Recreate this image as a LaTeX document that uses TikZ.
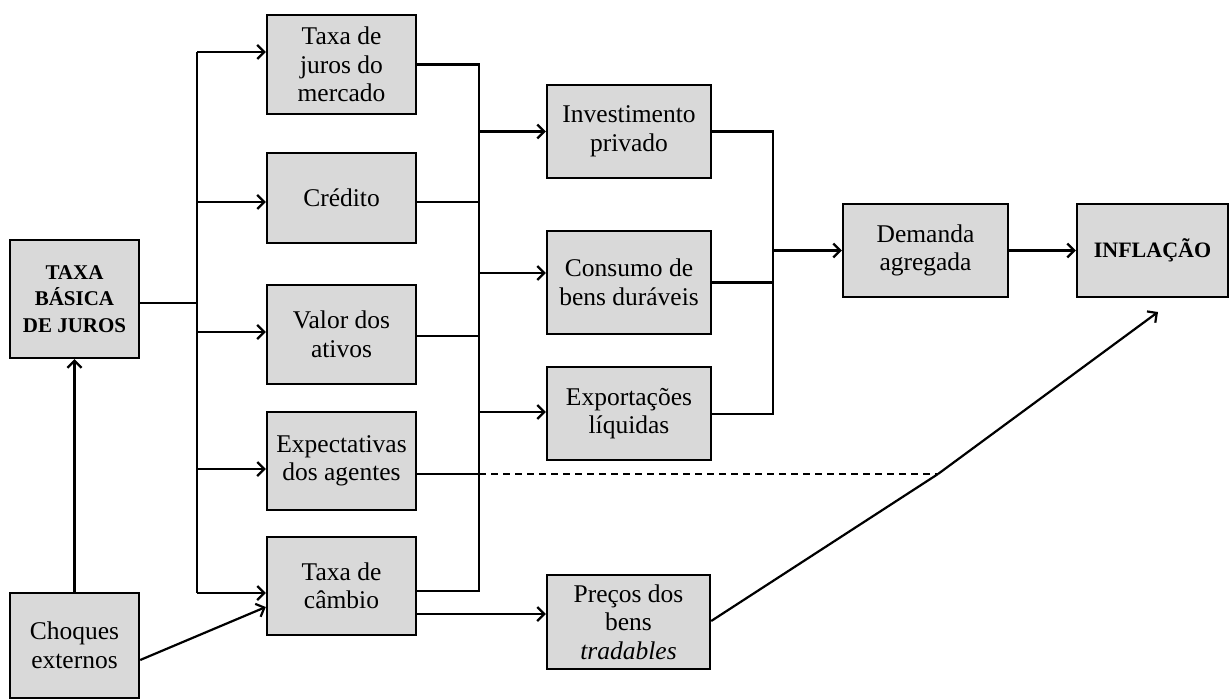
\documentclass[tikz,border=0pt]{standalone}
\usepackage{fontspec}
\setmainfont{Liberation Serif}
\usetikzlibrary{arrows.meta}
\definecolor{boxgray}{HTML}{D9D9D9}
\begin{document}
\begin{tikzpicture}[x=1pt,y=-1pt,
  bx/.style={draw=black, fill=boxgray, line width=2.4pt, align=center, inner sep=0pt,
             font=\fontsize{25.5}{28.5}\selectfont},
  bbx/.style={bx, font=\fontsize{21}{26.5}\selectfont\bfseries},
  ln/.style={line width=2.2pt},
  arr/.style={ln, -{Straight Barb[length=7pt,width=14pt,line width=2.2pt]}}]
\useasboundingbox (0,0) rectangle (1230,700);

% column 1
\node[bbx, minimum width=129pt, minimum height=118pt] (tbj) at (74.5,299) {TAXA\\BÁSICA\\DE JUROS};
\node[bx, minimum width=129pt, minimum height=105pt] (choq) at (74.5,645.5) {Choques\\externos};

% column 2
\node[bx, minimum width=149pt, minimum height=99pt] (tjm) at (341.5,64.5) {Taxa de\\juros do\\mercado};
\node[bx, minimum width=149pt, minimum height=90pt] (cred) at (341.5,198) {Crédito};
\node[bx, minimum width=149pt, minimum height=99pt] (valor) at (341.5,334.5) {Valor dos\\ativos};
\node[bx, minimum width=149pt, minimum height=98pt] (expect) at (341.5,461) {Expectativas\\dos agentes};
\node[bx, minimum width=149pt, minimum height=98pt] (camb) at (341.5,586) {Taxa de\\câmbio};

% column 3
\node[bx, minimum width=164pt, minimum height=93pt] (inv) at (629,131.5) {Investimento\\privado};
\node[bx, minimum width=164pt, minimum height=103pt] (cons) at (629,282.5) {Consumo de\\bens duráveis};
\node[bx, minimum width=164pt, minimum height=93pt] (expl) at (629,413.5) {Exportações\\líquidas};
\node[bx, minimum width=163pt, minimum height=94pt] (prec) at (628.5,622) {Preços dos\\bens\\\textit{tradables}};

% column 4/5
\node[bx, minimum width=165pt, minimum height=93pt] (dem) at (925.5,250.5) {Demanda\\agregada};
\node[bx, font=\fontsize{22}{26}\selectfont\bfseries, minimum width=151pt, minimum height=93pt] (infl) at (1152.5,250.5) {INFLAÇÃO};

% bus coordinates
\coordinate (busL) at (197,0);
\coordinate (busM) at (479,0);
\coordinate (busR) at (773,0);
\coordinate (j) at (938,474);
\coordinate (tip) at (1158,312);

% left bus
\draw[ln] ([yshift=-4pt]tbj.east) -- ([yshift=-4pt]tbj.east -| busL);
\draw[ln] ([yshift=12.5pt]tjm.west -| busL) -- ([yshift=-7pt]camb.west -| busL);
\draw[arr] ([yshift=12.5pt]tjm.west -| busL) -- ([yshift=12.5pt]tjm.west);
\draw[arr] ([yshift=-4pt]cred.west -| busL) -- ([yshift=-4pt]cred.west);
\draw[arr] ([yshift=2.5pt]valor.west -| busL) -- ([yshift=2.5pt]valor.west);
\draw[arr] ([yshift=-8pt]expect.west -| busL) -- ([yshift=-8pt]expect.west);
\draw[arr] ([yshift=-7pt]camb.west -| busL) -- ([yshift=-7pt]camb.west);

% external shocks
\draw[arr] (choq.north) -- (tbj.south);
\draw[arr] ([yshift=-14.5pt]choq.east) -- ([yshift=-21pt]camb.west);

% middle bus
\draw[ln] (tjm.east) -- (tjm.east -| busM) -- ([yshift=-5pt]camb.east -| busM) -- ([yshift=-5pt]camb.east);
\draw[ln] ([yshift=-4pt]cred.east) -- ([yshift=-4pt]cred.east -| busM);
\draw[ln] ([yshift=-1.5pt]valor.east) -- ([yshift=-1.5pt]valor.east -| busM);
\draw[ln] ([yshift=-13pt]expect.east) -- ([yshift=-13pt]expect.east -| busM);
\draw[ln, dash pattern=on 7pt off 5pt] ([yshift=-13pt]expect.east -| busM) -- (j);
\draw[arr] (inv.west -| busM) -- (inv.west);
\draw[arr] ([yshift=9.5pt]cons.west -| busM) -- ([yshift=9.5pt]cons.west);
\draw[arr] ([yshift=1.5pt]expl.west -| busM) -- ([yshift=1.5pt]expl.west);

% exchange rate to tradables
\draw[arr] ([yshift=-28pt]camb.east) -- ([yshift=8pt]prec.west);

% right bus
\draw[ln] (inv.east) -- (inv.east -| busR) -- ([yshift=-0.5pt]expl.east -| busR) -- ([yshift=-0.5pt]expl.east);
\draw[ln] (cons.east) -- (cons.east -| busR);
\draw[arr] (dem.west -| busR) -- (dem.west);
\draw[arr] (dem.east) -- (infl.west);

% tradables to inflation
\draw[ln] ([yshift=1pt]prec.east) -- (j);
\draw[arr] (j) -- (tip);
\end{tikzpicture}
\end{document}
